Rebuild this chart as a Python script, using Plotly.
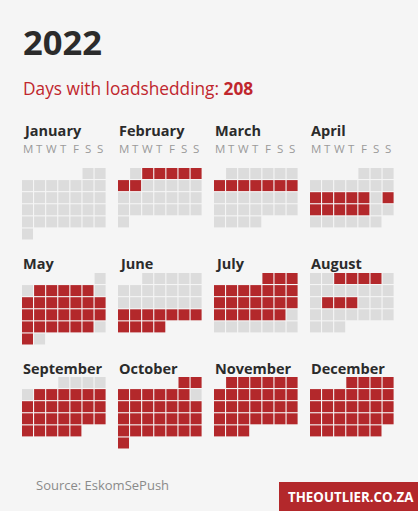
import datetime as dt
import plotly.graph_objects as go

YEAR = 2022
month_names = ["January", "February", "March", "April", "May", "June",
               "July", "August", "September", "October", "November", "December"]
weekday_labels = ["M", "T", "W", "T", "F", "S", "S"]

# Days with loadshedding, per month (day numbers)
jan_days = []
feb_days = [2, 3, 4, 5, 6, 7, 8]
mar_days = [7, 8, 9, 10, 11, 12, 13]
apr_days = [11, 12, 13, 14, 15, 17, 18, 19, 20, 21, 22]
may_days = [3, 4, 5, 6, 7] + list(range(9, 29)) + [30]
jun_days = list(range(20, 31))
jul_days = list(range(1, 24))
aug_days = [3, 4, 5, 6, 16, 17, 18]
sep_days = list(range(6, 31))
oct_days = [d for d in range(1, 32) if d != 9]
nov_days = list(range(1, 31))
dec_days = list(range(1, 32))
shed_days = [jan_days, feb_days, mar_days, apr_days, may_days, jun_days,
             jul_days, aug_days, sep_days, oct_days, nov_days, dec_days]

RED = "#b3282b"
GRAY = "#dcdcdc"
BG = "#f5f5f5"

# layout (pixels)
col_left = 22
col_step = 96
block_tops = [168, 273, 377]
label_y = [130, 263, 368]
pitch = 12.1
cell = 11

xs, ys, cs, texts = [], [], [], []
for m in range(12):
    col, row = m % 4, m // 4
    first = dt.date(YEAR, m + 1, 1)
    nxt = dt.date(YEAR + (m == 11), (m + 1) % 12 + 1, 1)
    ndays = (nxt - first).days
    offset = first.weekday()
    for d in range(1, ndays + 1):
        idx = offset + d - 1
        wd, wk = idx % 7, idx // 7
        xs.append(col_left + col * col_step + cell / 2 + wd * pitch)
        ys.append(block_tops[row] + cell / 2 + wk * pitch)
        on = d in shed_days[m]
        cs.append(RED if on else GRAY)
        texts.append(f"{d} {month_names[m]} {YEAR}")

fig = go.Figure()
fig.add_trace(go.Scatter(
    x=xs, y=ys, mode="markers",
    marker=dict(symbol="square", size=cell, color=cs, line=dict(width=0)),
    text=texts, hoverinfo="text", showlegend=False))

FONT = "Open Sans"
ann = []
for m in range(12):
    col, row = m % 4, m // 4
    ann.append(dict(x=col_left + col * col_step - 1, y=label_y[row], text=f"<b>{month_names[m]}</b>",
                    xanchor="left", yanchor="middle", showarrow=False,
                    font=dict(family=FONT, size=14.5, color="#2b2b2b")))
    if row == 0:
        for i, w in enumerate(weekday_labels):
            ann.append(dict(x=col_left + col * col_step + cell / 2 + i * pitch, y=148, text=w,
                            xanchor="center", yanchor="middle", showarrow=False,
                            font=dict(family=FONT, size=11.5, color="#9a9a9a")))

total = sum(len(s) for s in shed_days)
ann.append(dict(x=21, y=41, text="<b>2022</b>", xanchor="left", yanchor="middle", showarrow=False,
                font=dict(family=FONT, size=34.5, color="#2b2b2b")))
ann.append(dict(x=21, y=88, text=f"Days with loadshedding: <b>{total}</b>", xanchor="left",
                yanchor="middle", showarrow=False, font=dict(family=FONT, size=17.3, color="#c0262d")))
ann.append(dict(x=34, y=485, text="Source: EskomSePush", xanchor="left", yanchor="middle",
                showarrow=False, font=dict(family=FONT, size=13, color="#8a8a8a")))
ann.append(dict(x=351, y=497, text="<b>THEOUTLIER.CO.ZA</b>", xanchor="center", yanchor="middle",
                showarrow=False, font=dict(family=FONT, size=13.3, color="white")))

fig.update_layout(
    width=418, height=511, margin=dict(l=0, r=0, t=0, b=0),
    paper_bgcolor=BG, plot_bgcolor=BG,
    xaxis=dict(range=[0, 418], visible=False, fixedrange=True),
    yaxis=dict(range=[511, 0], visible=False, fixedrange=True),
    annotations=ann,
    shapes=[dict(type="rect", xref="x", yref="y", x0=279, x1=418, y0=482, y1=511,
                 fillcolor=RED, line=dict(width=0), layer="below")],
)

fig.write_html("out.html", config={"displayModeBar": False},
               post_script="document.body.style.margin='0';document.body.style.background='#f5f5f5';")
